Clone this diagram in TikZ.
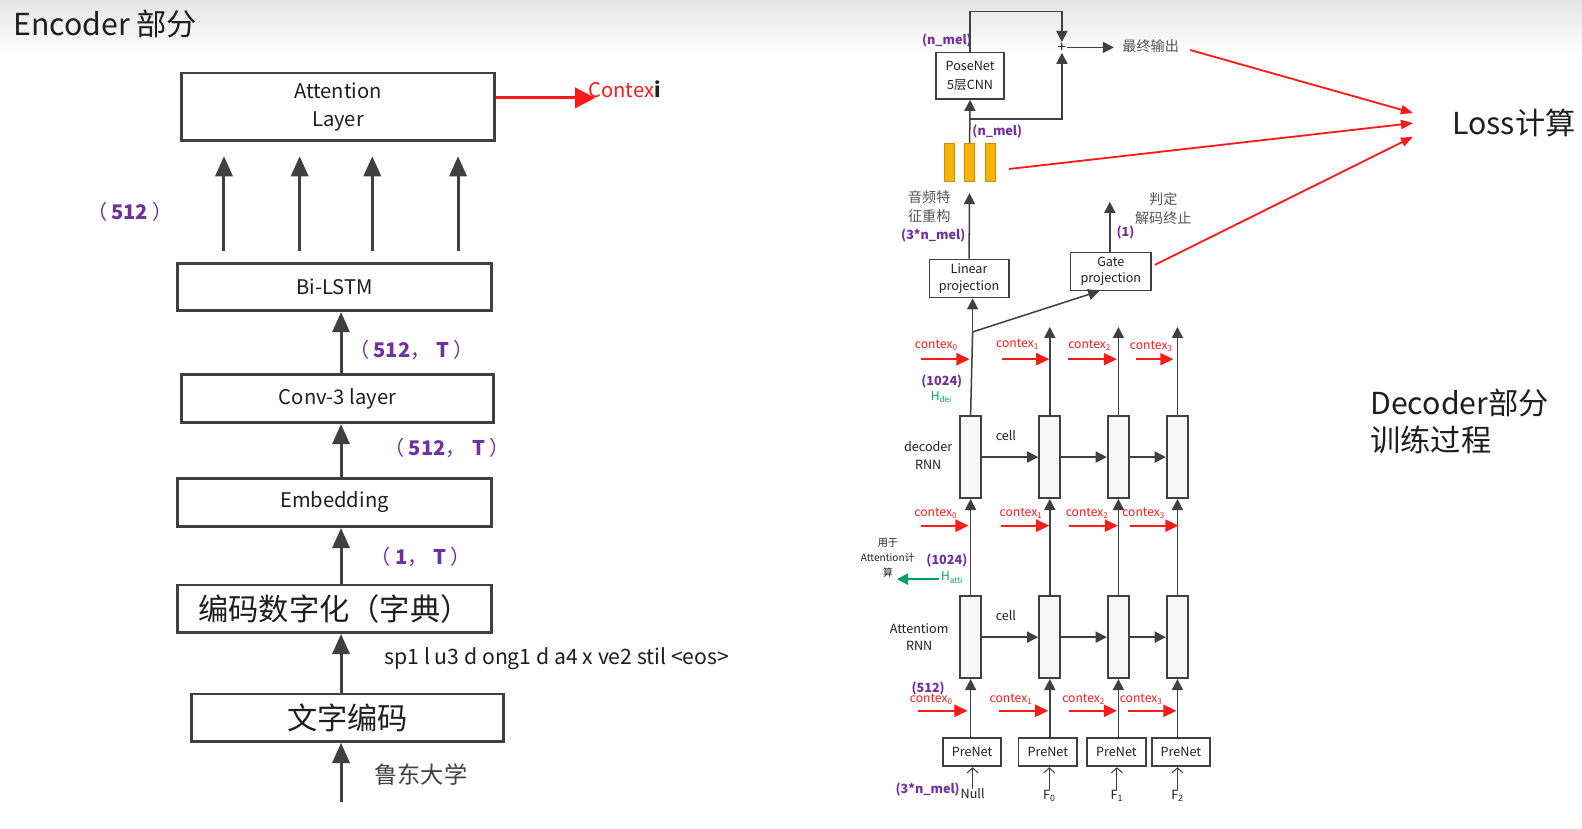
\documentclass[tikz,border=0pt]{standalone}
\usepackage{fontspec}
\setmainfont{Noto Sans CJK SC}
\usetikzlibrary{arrows.meta,calc}
\definecolor{dk}{HTML}{404040}
\definecolor{txt}{HTML}{1E1E1E}
\definecolor{purp}{HTML}{7030A0}
\definecolor{redc}{HTML}{FF1A1A}
\definecolor{grn}{HTML}{00A060}
\definecolor{gtxt}{HTML}{555555}
\definecolor{orfill}{HTML}{F5B400}
\definecolor{ordraw}{HTML}{D08C00}
\newcommand\fs[2]{\fontsize{#1}{#2}\selectfont}
\newcommand\mysub[1]{\textsubscript{#1}}
\newcommand\lpar{{\mdseries （}\hspace{4pt}}
\newcommand\rpar{\hspace{4pt}{\mdseries ）}}
\newcommand\fcomma{{\mdseries ，}\hspace{6pt}}
\begin{document}
\begin{tikzpicture}[x=1pt,y=-1pt,
  encbox/.style={draw=dk,line width=2.6pt,inner sep=0pt,text=txt,font=\fs{20}{28},align=center},
  bigarr/.style={draw=dk,line width=3pt,-{Triangle[length=20pt,width=17pt]}},
  redbig/.style={draw=redc,line width=3pt,-{Triangle[length=20pt,width=20pt]}},
  plab/.style={text=purp,font=\fs{#1}{#1}\bfseries,inner sep=0pt},
  darr/.style={draw=dk,line width=1.5pt,-{Triangle[length=11pt,width=11pt]}},
  dline/.style={draw=dk,line width=1.5pt},
  cellbox/.style={draw=dk,line width=2pt,fill=gray!7,minimum width=21pt,minimum height=81pt,inner sep=0pt},
  pnbox/.style={draw=dk,line width=1.8pt,fill=white,minimum width=58pt,minimum height=28pt,inner sep=0pt,font=\fs{12.5}{15},text=txt},
  smbox/.style={draw=dk,line width=1.4pt,fill=white,inner sep=0pt,font=\fs{12.5}{16.5},text=txt,align=center},
  ctx/.style={text=redc,font=\fs{12}{14},inner sep=0pt},
  redarr/.style={draw=redc,line width=2pt,-{Triangle[length=13pt,width=12pt]}},
  lossarr/.style={draw=redc,line width=1.8pt,-{Triangle[length=12pt,width=9pt]}},
  dtxt/.style={text=txt,font=\fs{12.5}{17},inner sep=0pt,align=center},
  gtx/.style={text=gtxt,font=\fs{14}{19},inner sep=0pt,align=center},
  inarr/.style={draw=dk,line width=1pt,-{Straight Barb[length=5pt,width=11pt]}},
  bar/.style={draw=ordraw,line width=0.8pt,fill=orfill,minimum width=10.5pt,minimum height=38pt,inner sep=0pt},
]
\useasboundingbox (0,0) rectangle (1568,821);
\fill[white] (0,0) rectangle (1568,821);
\foreach \i in {0,...,27}{\pgfmathsetmacro\g{10*(1-\i/28)}\fill[black!\g] (0,2*\i) rectangle (1568,2*\i+2.3);}

% ---------------- Encoder ----------------
\node[anchor=west,font=\fs{30}{34},text=txt,inner sep=0pt] (title) at (13,24) {Encoder 部分};

\node[encbox,minimum width=310pt,minimum height=67pt] (att) at (335,106) {Attention\\Layer};
\node[encbox,minimum width=311pt,minimum height=47pt] (bilstm) at (331.5,284.5) {Bi-LSTM};
\node[encbox,minimum width=309pt,minimum height=48pt] (conv) at (334.5,395) {Conv-3 layer};
\node[encbox,minimum width=311pt,minimum height=48pt] (emb) at (331.5,498) {Embedding};
\node[encbox,minimum width=311pt,minimum height=47pt,font=\fs{30}{32}] (dict) at (331.5,603.5) {编码数字化（字典）};
\node[encbox,minimum width=309pt,minimum height=47pt,font=\fs{30}{32}] (wenzi) at (344.5,711.5) {文字编码};

\coordinate (ctxend) at (590,97);
\draw[redbig] (att.east |- ctxend) -- (ctxend);
\node[anchor=west,font=\fs{20}{24},inner sep=0pt] (ctxi) at (583,88) {\textcolor{redc}{Contex}\textcolor{txt}{\textbf{i}}};

\foreach \x in {222,297,369,454}{
  \coordinate (e\x) at (\x,0);
  \draw[bigarr,shorten <=11pt,shorten >=14pt] (bilstm.north -| e\x) -- (att.south -| e\x);
}
\node[plab=20] (l512) at (128.5,210) {\lpar 512\rpar};

\coordinate (ax) at (338,0);
\draw[bigarr] (conv.north -| ax) -- (bilstm.south -| ax);
\draw[bigarr] (emb.north -| ax) -- (conv.south -| ax);
\draw[bigarr] (dict.north -| ax) -- (emb.south -| ax);
\draw[bigarr] (wenzi.north -| ax) -- (dict.south -| ax);
\coordinate (inbot) at (338,795);
\draw[bigarr] (inbot) -- (wenzi.south -| ax);

\node[plab=20] (l512a) at (408,347) {\lpar 512\fcomma T\rpar};
\node[plab=20] (l512b) at (443,444) {\lpar 512\fcomma T\rpar};
\node[plab=20] (l1t) at (417,552) {\lpar 1\fcomma T\rpar};
\node[anchor=west,font=\fs{21}{24},text=txt,inner sep=0pt] (pinyin) at (381,653) {sp1 l u3 d ong1 d a4 x ve2 stil <eos>};
\node[anchor=west,font=\fs{23}{26},text=black!75,inner sep=0pt] (ldu) at (371,768) {鲁东大学};

% ---------------- Decoder ----------------
\foreach \n/\x in {1/962,2/1040.5,3/1108.5,4/1167}{
  \node[cellbox] (dc\n) at (\x,453) {};
  \node[cellbox] (ac\n) at (\x,631.5) {};
  \coordinate (top\n) at (\x,324);
}
\foreach \n/\x in {1/963.5,2/1038.5,3/1106.5,4/1170.5}
  \node[pnbox] (pn\n) at (\x,745.5) {PreNet};

\foreach \n in {1,...,4}{
  \draw[darr] (ac\n.south |- pn\n.north) -- (ac\n.south);
  \draw[darr] (ac\n.north) -- (dc\n.south);
}
\foreach \n in {2,3,4}
  \draw[darr] (dc\n.north) -- (top\n);
\foreach \a/\b in {1/2,2/3,3/4}{
  \draw[darr] (dc\a.east) -- (dc\b.west);
  \draw[darr] (ac\a.east) -- (ac\b.west);
}

\foreach \r/\sx/\ex/\y/\lx/\ly/\s in {
  T/913/961/356/928/342/0, T/993/1040/356/1008.5/341/1, T/1059/1107/356/1080/342/2, T/1126/1163/356/1141/343/3,
  M/913/960/521/927.5/508.6/0, M/992/1040/521/1012/508.6/1, M/1060/1108/521/1077.5/508.6/2, M/1120/1168/521/1133.5/508.6/3,
  B/910/959/704.5/923/693/0, B/990/1039/704.5/1002/693/1, B/1060/1107/704.5/1074/693/2, B/1118/1166/704.5/1131/693/3}{
  \node[ctx] (cx\r\s) at (\lx,\ly) {contex\mysub{\s}};
  \coordinate (cs\r\s) at (\sx,\y);
  \coordinate (ce\r\s) at (\ex,\y);
  \draw[redarr] (cs\r\s) -- (ce\r\s);
}

\node[dtxt] (decl) at (920,451.5) {decoder\\RNN};
\node[dtxt] (attl) at (911,631.5) {Attentiom\\RNN};
\node[dtxt] (cell1) at (997,432) {cell};
\node[dtxt] (cell2) at (997,610.5) {cell};

\node[plab=12.5] (h1024a) at (933.5,378.5) {(1024)};
\node[text=grn,font=\fs{12}{14},inner sep=0pt] (hdei) at (933,393.5) {H\mysub{dei}};
\node[plab=12.5] (h1024b) at (938.5,556) {(1024)};
\node[text=grn,font=\fs{12}{14},inner sep=0pt] (hatti) at (943.5,572.5) {H\mysub{atti}};
\coordinate (ge) at (889,574);
\draw[draw=grn,line width=2pt,-{Triangle[length=11pt,width=11pt]},shorten <=2pt] (hatti.west |- ge) -- (ge);
\node[text=txt,font=\fs{10}{14.5},inner sep=0pt,align=center] (yongyu) at (880,553) {用于\\Attention计\\算};

\node[plab=12.5] (p512) at (920,682) {(512)};
\node[plab=12.5] (p3n) at (919.5,782) {(3*n\_mel)};
\node[dtxt] (in1) at (964,787) {Null};
\node[dtxt] (in2) at (1040,789) {F\mysub{0}};
\node[dtxt] (in3) at (1107,789) {F\mysub{1}};
\node[dtxt] (in4) at (1167,789) {F\mysub{2}};
\foreach \n in {1,...,4}
  \draw[inarr] (in\n.north) -- (in\n.north |- pn\n.south);

% upper decoder
\node[smbox,minimum width=67pt,minimum height=46pt,line width=1.8pt,font=\fs{12.5}{18.5}] (pose) at (961.5,75) {PoseNet\\5层CNN};
\node[plab=12.5] (nmel1) at (938.5,40.6) {(n\_mel)};
\node[font=\fs{15}{15},inner sep=0.5pt,text=txt] (plus) at (1052.5,47) {+};
\coordinate (loopTop) at (1052.5,11.6);
\draw[darr] (pose.north) |- (loopTop) -- (plus.north);
\coordinate (outarr) at (1104,47);
\draw[darr] (plus.east) -- (outarr);
\node[gtx] (out) at (1140.5,46) {最终输出};

\node[bar] (bar1) at (941,161) {};
\node[bar] (bar2) at (961,161) {};
\node[bar] (bar3) at (981.5,161) {};
\draw[darr] (bar2.north) -- (pose.south);
\coordinate (br) at (961,118);
\draw[darr] (br) -| (plus.south);
\node[plab=12.5] (nmel2) at (988.5,130.5) {(n\_mel)};

\node[gtx] (yinpin) at (921,204.5) {音频特\\征重构};
\node[plab=12.5] (p3n2) at (925,233.6) {(3*n\_mel)};
\node[smbox,minimum width=79pt,minimum height=38pt] (lin) at (960.5,276) {Linear\\projection};
\node[smbox,minimum width=80pt,minimum height=37.5pt] (gate) at (1101,269) {Gate\\projection};
\draw[darr,shorten >=11pt] (lin.north) -- (bar2.south);
\coordinate (gateup) at (1100,200);
\draw[darr] (gate.north -| gateup) -- (gateup);
\node[plab=12.5] (p1) at (1115.5,230) {(1)};
\node[gtx] (panding) at (1153,207) {判定\\解码终止};

\coordinate (bend) at (964,329);
\draw[dline] (dc1.north) -- (bend);
\draw[darr] (bend) -- (bend |- lin.south);
\draw[darr] (bend) -- ($(gate.south west)!0.36!(gate.south east)$);

% loss
\node[font=\fs{30}{34},text=txt,inner sep=0pt] (loss) at (1500.5,122) {Loss计算};
\coordinate (lt1) at (1400.5,112);
\coordinate (lt2) at (1400.5,122);
\coordinate (lt3) at (1400.5,135.5);
\coordinate (barred) at (1000,167.5);
\draw[lossarr] ([xshift=11pt,yshift=-3.6pt]out.east) -- (lt1);
\draw[lossarr] (barred) -- (lt2);
\draw[lossarr] ([xshift=3pt,yshift=6.5pt]gate.east) -- (lt3);

\node[font=\fs{30}{36.5},text=txt,inner sep=0pt,align=left,anchor=west] (dect) at (1358,418) {Decoder部分\\训练过程};
\end{tikzpicture}
\end{document}
